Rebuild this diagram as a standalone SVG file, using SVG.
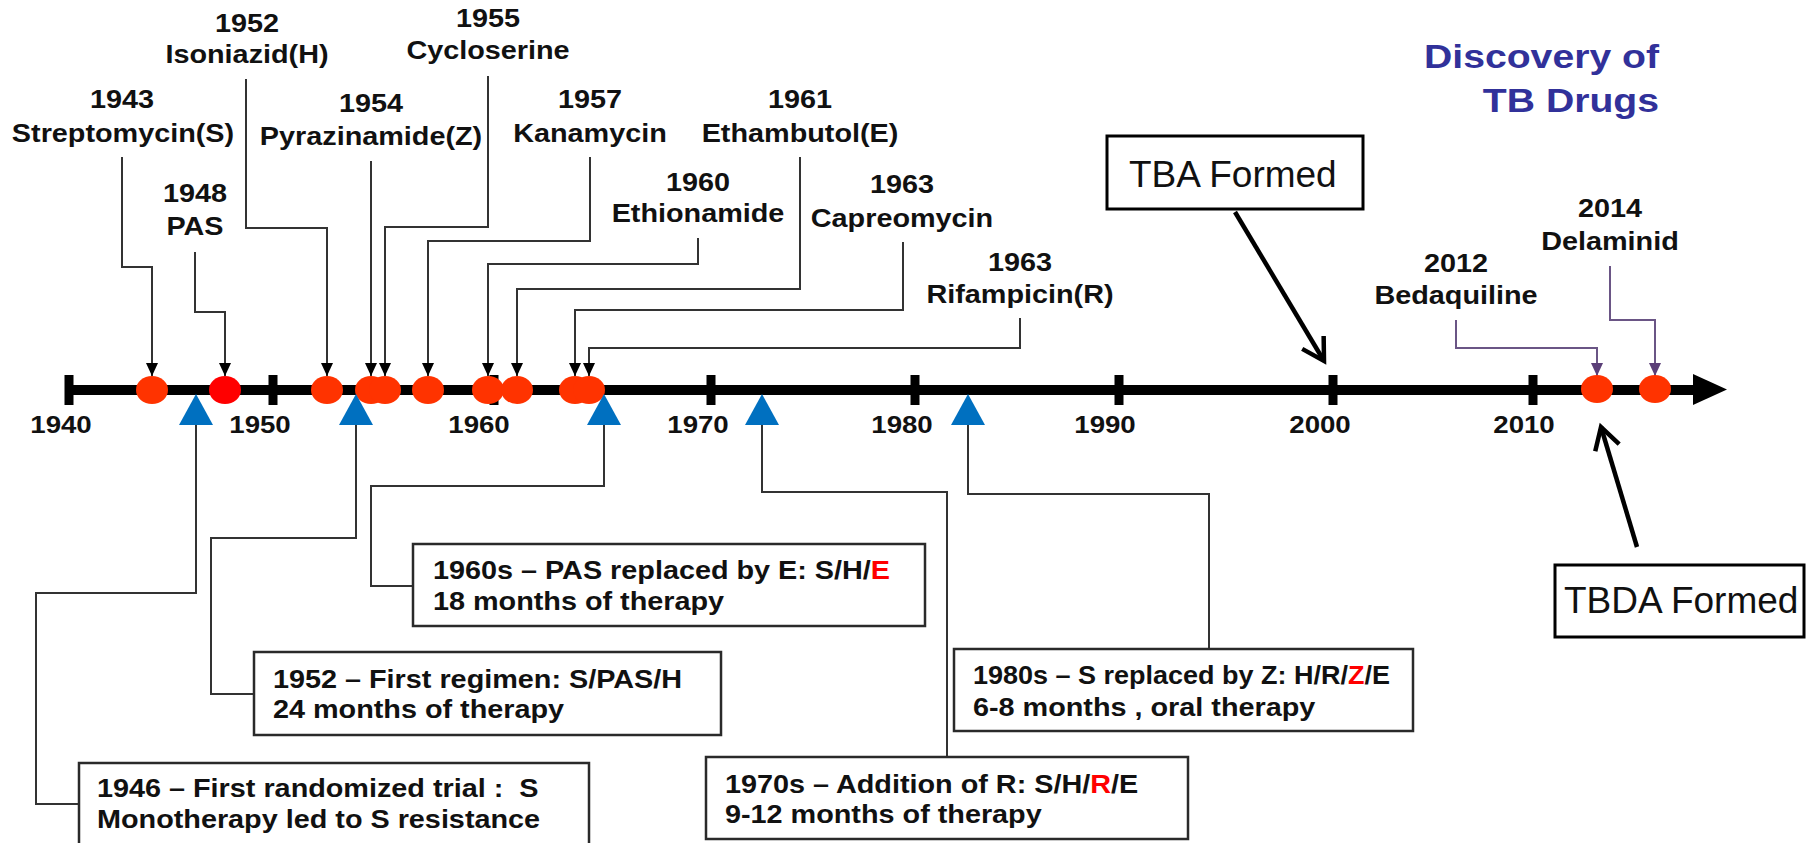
<svg xmlns="http://www.w3.org/2000/svg" width="1806" height="843" viewBox="0 0 1806 843">
<style>
text{font-family:"Liberation Sans",Arial,sans-serif;fill:#111}
.lbl{font-size:25px;font-weight:bold;text-anchor:middle}
.yr{font-size:24px;font-weight:bold;text-anchor:middle}
.bt{font-size:25px;font-weight:bold}
.title{font-size:34px;font-weight:bold;fill:#31319A;text-anchor:end}
.note{font-size:37px}
.red{fill:#FF0000}
.dot{fill:#FF3300}
.tri{fill:#0070C0}
.box{fill:#fff;stroke:#2a2a2a;stroke-width:2.5}
.nbox{fill:#fff;stroke:#000;stroke-width:3}
.c{fill:none;stroke:#333;stroke-width:2;marker-end:url(#ah)}
.p{fill:none;stroke:#6A5585;stroke-width:2;marker-end:url(#ahp)}
.t{fill:none;stroke:#333;stroke-width:2}
.big{fill:none;stroke:#000;stroke-width:4.5;marker-end:url(#open)}
</style>
<defs>
<marker id="ah" markerUnits="userSpaceOnUse" viewBox="0 0 13 12" markerWidth="13" markerHeight="12" refX="13" refY="6" orient="auto"><path d="M0,0 L13,6 L0,12 z" fill="#000"/></marker>
<marker id="ahp" markerUnits="userSpaceOnUse" viewBox="0 0 13 12" markerWidth="13" markerHeight="12" refX="13" refY="6" orient="auto"><path d="M0,0 L13,6 L0,12 z" fill="#5B3F78"/></marker>
<marker id="open" markerUnits="userSpaceOnUse" viewBox="0 0 30 30" markerWidth="30" markerHeight="30" refX="25" refY="15" orient="auto" overflow="visible"><path d="M3.4,2.5 L25,15 L3.4,27.5" fill="none" stroke="#000" stroke-width="4.5"/></marker>
</defs>
<rect width="1806" height="843" fill="#fff"/>

<g id="axis">
<rect x="69" y="385" width="1628" height="10" fill="#000"/>
<polygon points="1693,374 1727,389.5 1693,405" fill="#000"/>
<g fill="#000">
<rect x="64.5" y="375" width="9" height="30"/>
<rect x="268.5" y="375" width="9" height="30"/>
<rect x="489.5" y="375" width="9" height="30"/>
<rect x="706.5" y="375" width="9" height="30"/>
<rect x="910.5" y="375" width="9" height="30"/>
<rect x="1114.5" y="375" width="9" height="30"/>
<rect x="1328.5" y="375" width="9" height="30"/>
<rect x="1528.5" y="375" width="9" height="30"/>
</g>
<text class="yr" transform="matrix(1.152 0 0 1 61 433)">1940</text>
<text class="yr" transform="matrix(1.152 0 0 1 260 433)">1950</text>
<text class="yr" transform="matrix(1.152 0 0 1 479 433)">1960</text>
<text class="yr" transform="matrix(1.152 0 0 1 698 433)">1970</text>
<text class="yr" transform="matrix(1.152 0 0 1 902 433)">1980</text>
<text class="yr" transform="matrix(1.152 0 0 1 1105 433)">1990</text>
<text class="yr" transform="matrix(1.152 0 0 1 1320 433)">2000</text>
<text class="yr" transform="matrix(1.152 0 0 1 1524 433)">2010</text>
</g>

<g id="title">
<text class="title" transform="matrix(1.152 0 0 1 1659 68)">Discovery of</text>
<text class="title" transform="matrix(1.152 0 0 1 1659 112)">TB Drugs</text>
</g>

<g id="connectors">
<path class="c" d="M122,157 V267 H152 V376"/>
<path class="c" d="M195,252 V312 H225 V376"/>
<path class="c" d="M246,79 V228 H327 V376"/>
<path class="c" d="M371,161 V376"/>
<path class="c" d="M488,76 V227 H385 V376"/>
<path class="c" d="M590,157 V241 H428 V376"/>
<path class="c" d="M698,238 V264 H488 V376"/>
<path class="c" d="M800,157 V289 H517 V376"/>
<path class="c" d="M903,242 V310 H575 V376"/>
<path class="c" d="M1020,318 V348 H589 V376"/>
<path class="p" d="M1456,320 V348 H1597 V376"/>
<path class="p" d="M1610,266 V320 H1655 V376"/>
<path class="t" d="M196,425 V593 H36 V804 H79"/>
<path class="t" d="M356,425 V538 H211 V694 H254"/>
<path class="t" d="M604,425 V486 H371 V586 H413"/>
<path class="t" d="M762,425 V492 H947 V757"/>
<path class="t" d="M968,425 V494 H1209 V649"/>
<path class="big" d="M1235,212 L1324,361"/>
<path class="big" d="M1637,547 L1601,427"/>
</g>

<g id="e1943"><ellipse class="dot" cx="152" cy="390" rx="16" ry="14"/><text class="lbl" transform="matrix(1.152 0 0 1 122 108)">1943</text><text class="lbl" transform="matrix(1.152 0 0 1 123 142)">Streptomycin(S)</text></g>
<g id="e1948"><ellipse cx="225" cy="390" rx="16" ry="14" fill="#FF0000"/><text class="lbl" transform="matrix(1.152 0 0 1 195 202)">1948</text><text class="lbl" transform="matrix(1.152 0 0 1 195 235)">PAS</text></g>
<g id="e1952"><ellipse class="dot" cx="327" cy="390" rx="16" ry="14"/><text class="lbl" transform="matrix(1.152 0 0 1 247 32)">1952</text><text class="lbl" transform="matrix(1.152 0 0 1 247 63)">Isoniazid(H)</text></g>
<g id="e1954"><ellipse class="dot" cx="371" cy="390" rx="16" ry="14"/><text class="lbl" transform="matrix(1.152 0 0 1 371 112)">1954</text><text class="lbl" transform="matrix(1.152 0 0 1 371 145)">Pyrazinamide(Z)</text></g>
<g id="e1955"><ellipse class="dot" cx="385" cy="390" rx="16" ry="14"/><text class="lbl" transform="matrix(1.152 0 0 1 488 27)">1955</text><text class="lbl" transform="matrix(1.152 0 0 1 488 59)">Cycloserine</text></g>
<g id="e1957"><ellipse class="dot" cx="428" cy="390" rx="16" ry="14"/><text class="lbl" transform="matrix(1.152 0 0 1 590 108)">1957</text><text class="lbl" transform="matrix(1.152 0 0 1 590 142)">Kanamycin</text></g>
<g id="e1960"><ellipse class="dot" cx="488" cy="390" rx="16" ry="14"/><text class="lbl" transform="matrix(1.152 0 0 1 698 191)">1960</text><text class="lbl" transform="matrix(1.152 0 0 1 698 222)">Ethionamide</text></g>
<g id="e1961"><ellipse class="dot" cx="517" cy="390" rx="16" ry="14"/><text class="lbl" transform="matrix(1.152 0 0 1 800 108)">1961</text><text class="lbl" transform="matrix(1.152 0 0 1 800 142)">Ethambutol(E)</text></g>
<g id="e1963a"><ellipse class="dot" cx="575" cy="390" rx="16" ry="14"/><text class="lbl" transform="matrix(1.152 0 0 1 902 193)">1963</text><text class="lbl" transform="matrix(1.152 0 0 1 902 227)">Capreomycin</text></g>
<g id="e1963b"><ellipse class="dot" cx="589" cy="390" rx="16" ry="14"/><text class="lbl" transform="matrix(1.152 0 0 1 1020 271)">1963</text><text class="lbl" transform="matrix(1.152 0 0 1 1020 303)">Rifampicin(R)</text></g>
<g id="e2012"><ellipse class="dot" cx="1597" cy="389" rx="16" ry="14"/><text class="lbl" transform="matrix(1.152 0 0 1 1456 272)">2012</text><text class="lbl" transform="matrix(1.152 0 0 1 1456 304)">Bedaquiline</text></g>
<g id="e2014"><ellipse class="dot" cx="1655" cy="389" rx="16" ry="14"/><text class="lbl" transform="matrix(1.152 0 0 1 1610 217)">2014</text><text class="lbl" transform="matrix(1.152 0 0 1 1610 250)">Delaminid</text></g>

<g id="r1946"><polygon class="tri" points="196,394 213,425 179,425"/><rect class="box" x="79" y="763" width="510" height="100"/>
<text class="bt" xml:space="preserve" transform="matrix(1.152 0 0 1 97 797)">1946 – First randomized trial :  S</text>
<text class="bt" transform="matrix(1.152 0 0 1 97 828)">Monotherapy led to S resistance</text></g>
<g id="r1952"><polygon class="tri" points="356,394 373,425 339,425"/><rect class="box" x="254" y="652" width="467" height="83"/>
<text class="bt" transform="matrix(1.152 0 0 1 273 688)">1952 – First regimen: S/PAS/H</text>
<text class="bt" transform="matrix(1.152 0 0 1 273 718)">24 months of therapy</text></g>
<g id="r1960s"><polygon class="tri" points="604,394 621,425 587,425"/><rect class="box" x="413" y="544" width="512" height="82"/>
<text class="bt" transform="matrix(1.152 0 0 1 433 579)">1960s – PAS replaced by E: S/H/<tspan class="red">E</tspan></text>
<text class="bt" transform="matrix(1.152 0 0 1 433 610)">18 months of therapy</text></g>
<g id="r1970s"><polygon class="tri" points="762,394 779,425 745,425"/><rect class="box" x="706" y="757" width="482" height="82"/>
<text class="bt" transform="matrix(1.152 0 0 1 725 793)">1970s – Addition of R: S/H/<tspan class="red">R</tspan>/E</text>
<text class="bt" transform="matrix(1.152 0 0 1 725 823)">9-12 months of therapy</text></g>
<g id="r1980s"><polygon class="tri" points="968,394 985,425 951,425"/><rect class="box" x="954" y="649" width="459" height="82"/>
<text class="bt" transform="matrix(1.08 0 0 1 973 684)">1980s – S replaced by Z: H/R/<tspan class="red">Z</tspan>/E</text>
<text class="bt" transform="matrix(1.152 0 0 1 973 716)">6-8 months , oral therapy</text></g>

<g id="tba"><rect class="nbox" x="1107" y="136" width="256" height="73"/><text class="note" x="1129" y="187">TBA Formed</text></g>
<g id="tbda"><rect class="nbox" x="1555" y="565" width="249" height="72"/><text class="note" x="1564" y="613">TBDA Formed</text></g>
</svg>
